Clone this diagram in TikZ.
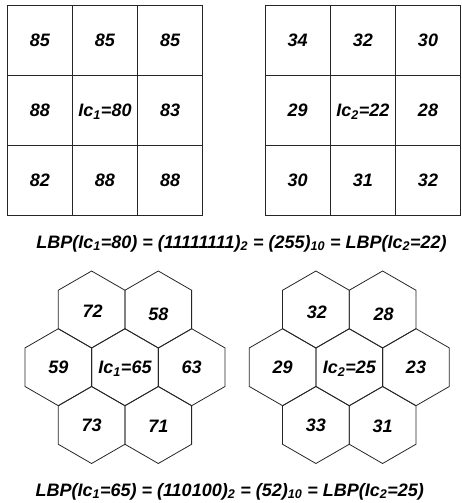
\documentclass[tikz,border=0pt]{standalone}
\usepackage{fontspec}
\setmainfont{Liberation Sans}
\usetikzlibrary{shapes.geometric}

\begin{document}
\begin{tikzpicture}[x=1pt,y=-1pt]
  \tikzstyle{txt}  = [font=\fontsize{18}{21}\selectfont\bfseries\itshape]
  \tikzstyle{cell} = [txt,rectangle,draw=black!85,line width=0.8pt,inner sep=0pt,
                      minimum width=65.2pt,minimum height=70.1pt,text height=12.9pt,text depth=0pt]
  \tikzstyle{hexa} = [regular polygon,regular polygon sides=6,regular polygon rotate=30,
                      draw=black!85,line width=0.8pt,inner sep=0pt,minimum size=77pt]
  \tikzstyle{every label} = [txt,inner sep=0pt,text height=12.9pt,text depth=0pt]
  \tikzstyle{eqn}  = [txt,anchor=base,inner sep=0pt]
  \useasboundingbox (0,0) rectangle (461,503);
  % 3x3 square neighbourhood around Ic_1
  \path ( 39.8,  40) node[cell](a1) {85};
  \path (105.0,  40) node[cell](a2) {85};
  \path (170.2,  40) node[cell](a3) {85};
  \path ( 39.8, 110) node[cell](a4) {88};
  \path (105.0, 110) node[cell](a0) {Ic\textsubscript{1}=80};
  \path (170.2, 110) node[cell](a5) {83};
  \path ( 39.8, 180) node[cell](a6) {82};
  \path (105.0, 180) node[cell](a7) {88};
  \path (170.2, 180) node[cell](a8) {88};
  % 3x3 square neighbourhood around Ic_2
  \path (297.6,  40) node[cell](b1) {34};
  \path (362.8,  40) node[cell](b2) {32};
  \path (428.0,  40) node[cell](b3) {30};
  \path (297.6, 110) node[cell](b4) {29};
  \path (362.8, 110) node[cell](b0) {Ic\textsubscript{2}=22};
  \path (428.0, 110) node[cell](b5) {28};
  \path (297.6, 180) node[cell](b6) {30};
  \path (362.8, 180) node[cell](b7) {31};
  \path (428.0, 180) node[cell](b8) {32};
  \path (241.5, 248) node[eqn](sqlbp) {LBP(Ic\textsubscript{1}=80) = (11111111)\textsubscript{2} = (255)\textsubscript{10} = LBP(Ic\textsubscript{2}=22)};
  % hexagonal neighbourhood around Ic_1
  \path ( 91.6, 309.5) node[hexa,label={[xshift=1pt,yshift=-1.5pt]center:72}](c1) {};
  \path (158.3, 309.5) node[hexa,label={[yshift=-4.5pt]center:58}](c2) {};
  \path ( 58.3, 367.2) node[hexa,label=center:59](c3) {};
  \path (125.0, 367.2) node[hexa,label={center:Ic\textsubscript{1}=65}](c0) {};
  \path (191.7, 367.2) node[hexa,label=center:63](c4) {};
  \path ( 91.6, 425.0) node[hexa,label=center:73](c5) {};
  \path (158.3, 425.0) node[hexa,label={[yshift=-1pt]center:71}](c6) {};
  % hexagonal neighbourhood around Ic_2
  \path (315.9, 309.5) node[hexa,label={[xshift=1pt,yshift=-3pt]center:32}](d1) {};
  \path (382.6, 309.5) node[hexa,label={[xshift=1pt,yshift=-4.5pt]center:28}](d2) {};
  \path (282.6, 367.2) node[hexa,label=center:29](d3) {};
  \path (349.3, 367.2) node[hexa,label={center:Ic\textsubscript{2}=25}](d0) {};
  \path (416.0, 367.2) node[hexa,label=center:23](d4) {};
  \path (315.9, 425.0) node[hexa,label=center:33](d5) {};
  \path (382.6, 425.0) node[hexa,label={[yshift=-1pt]center:31}](d6) {};
  \path (229.7, 496) node[eqn](hxlbp) {LBP(Ic\textsubscript{1}=65) = (110100)\textsubscript{2} = (52)\textsubscript{10} = LBP(Ic\textsubscript{2}=25)};
\end{tikzpicture}
\end{document}
